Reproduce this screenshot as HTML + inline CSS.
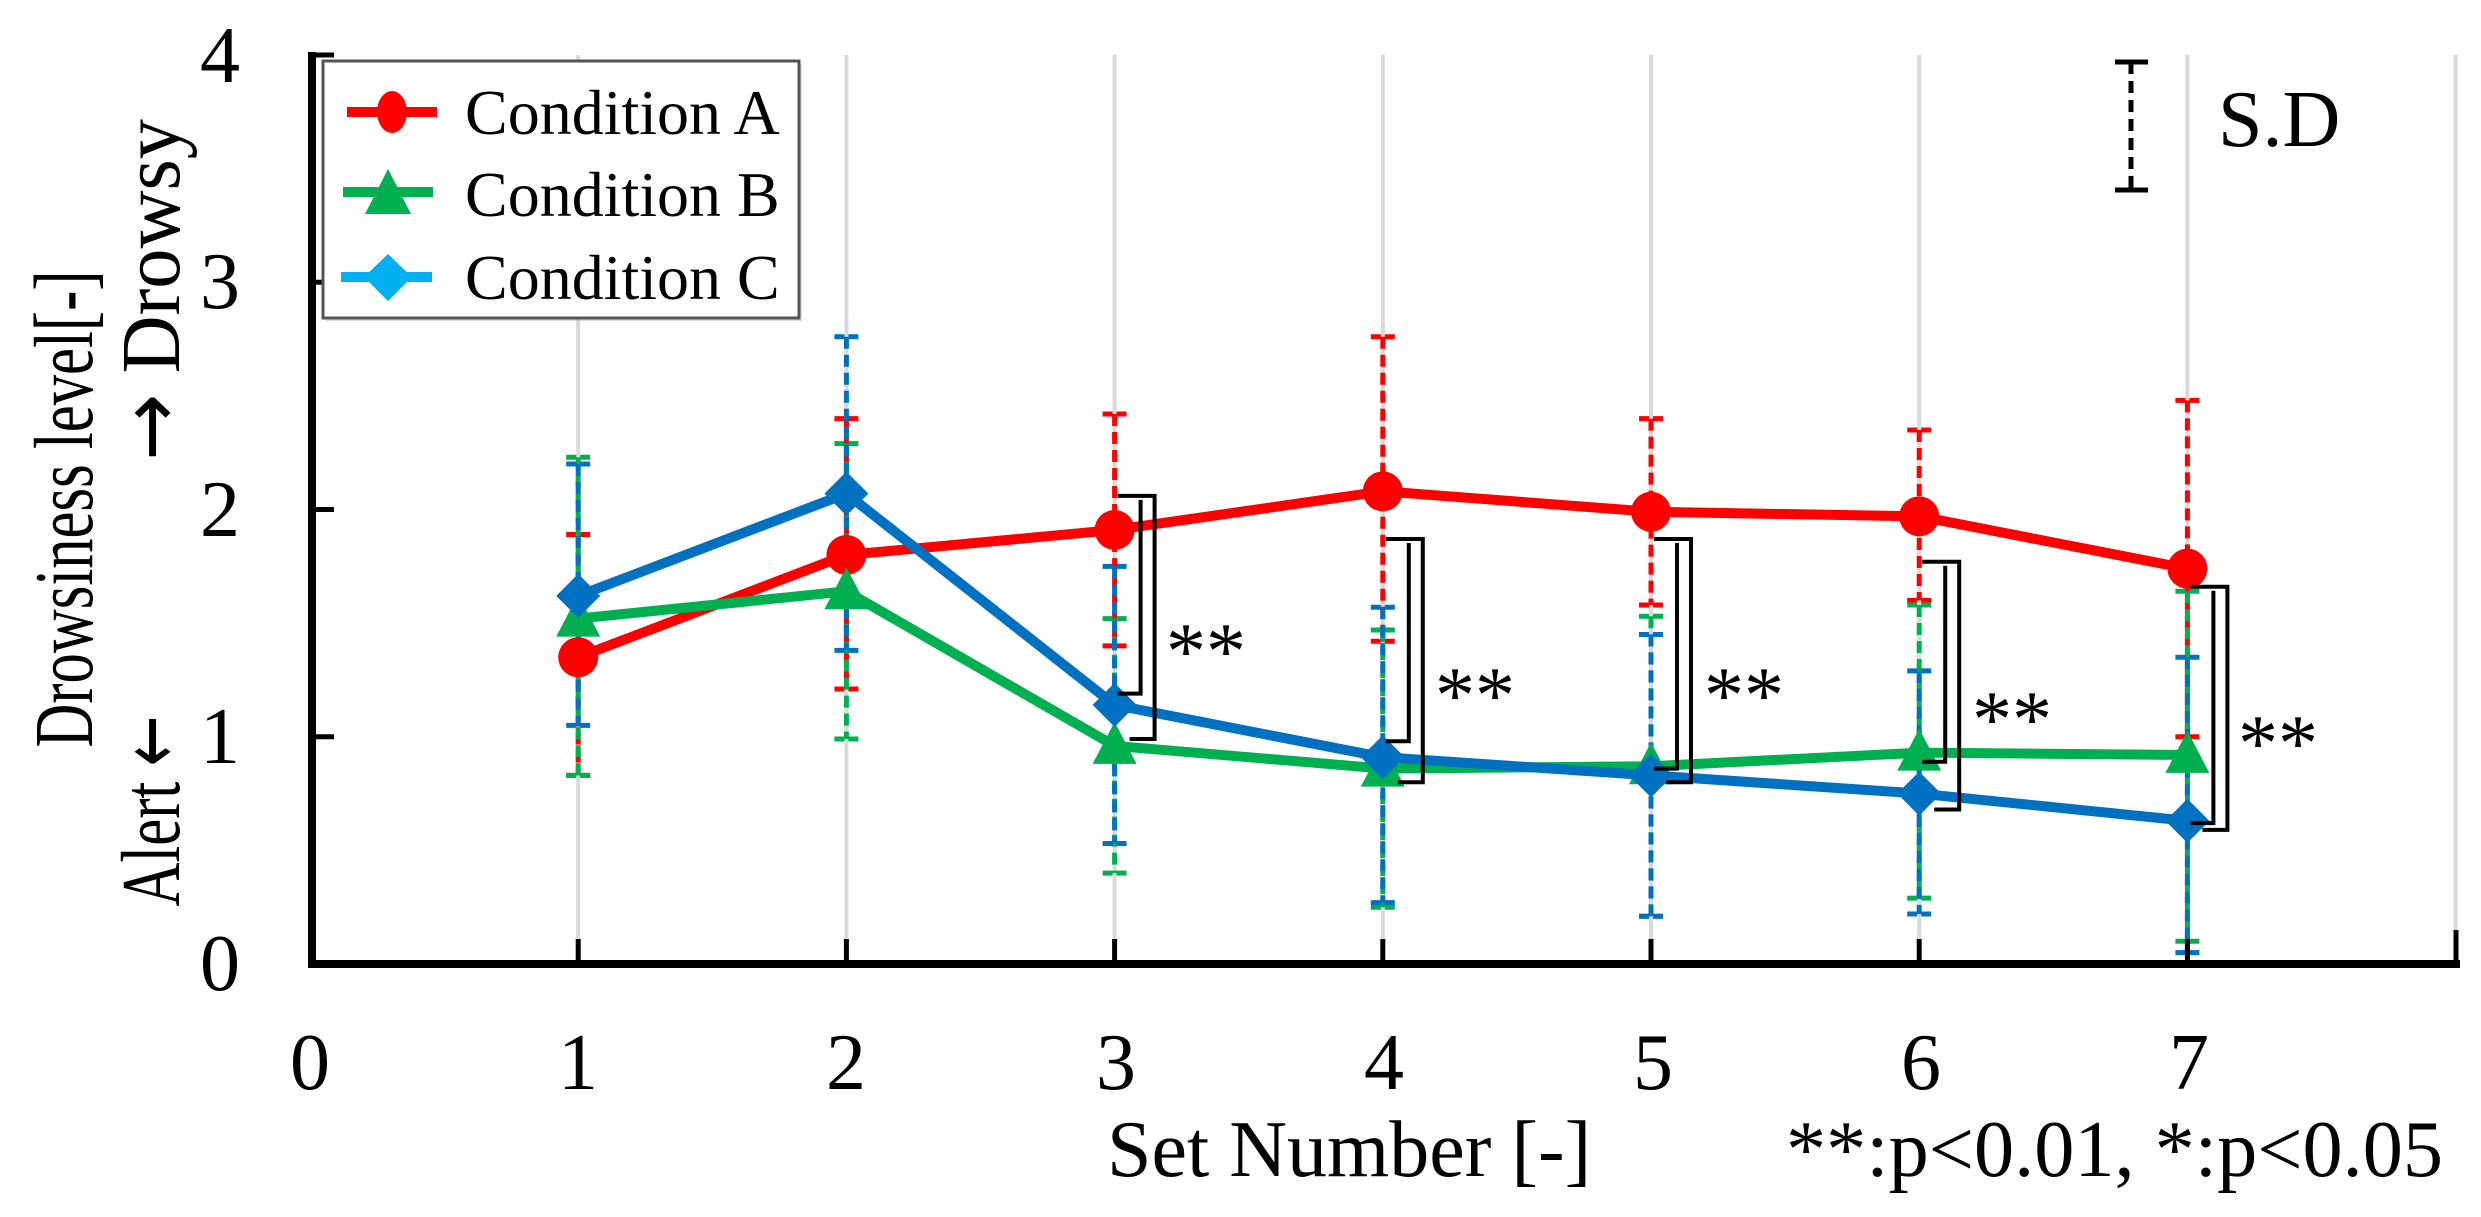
<!DOCTYPE html>
<html><head><meta charset="utf-8"><style>
html,body{margin:0;padding:0;background:#fff;}
svg{display:block;}
text{font-family:"Liberation Serif",serif;fill:#000;}
.ar{font-family:"DejaVu Sans",sans-serif;}
</style></head><body>
<svg id="s" width="2481" height="1217" viewBox="0 0 2481 1217" xmlns="http://www.w3.org/2000/svg">
<rect width="2481" height="1217" fill="#fff"/>
<g id="grid" stroke="#d9d9d9" stroke-width="4"></g>
<g id="err"></g>
<g id="lines"></g>
<g id="brk" stroke="#000" stroke-width="4" fill="none"></g>
<g stroke="#000">
<line x1="312" y1="52" x2="312" y2="968" stroke-width="8"/>
<line x1="308" y1="964" x2="2460" y2="964" stroke-width="8"/>
<line x1="2456" y1="930" x2="2456" y2="968" stroke-width="5"/>
</g>
<g id="ticks" stroke="#000" stroke-width="5"></g>
<g font-size="80" text-anchor="end">
<text x="240" y="990">0</text>
<text x="240" y="763">1</text>
<text x="240" y="536">2</text>
<text x="240" y="308">3</text>
<text x="240" y="82">4</text>
</g>
<g font-size="80" text-anchor="middle">
<text x="310" y="1089">0</text><text x="578" y="1089">1</text><text x="846" y="1089">2</text>
<text x="1116" y="1089">3</text><text x="1384" y="1089">4</text><text x="1653" y="1089">5</text>
<text x="1921" y="1089">6</text><text x="2189" y="1089">7</text>
</g>
<text x="1107" y="1176" font-size="80">Set Number [-]</text>
<text x="1786" y="1176" font-size="80" textLength="657" lengthAdjust="spacingAndGlyphs">**:p&lt;0.01,  *:p&lt;0.05</text>
<g font-size="84" text-anchor="middle">
<text transform="translate(92,509) rotate(-90)" textLength="477" lengthAdjust="spacingAndGlyphs">Drowsiness level[-]</text>
<text transform="translate(179,811) rotate(-90)" textLength="191" lengthAdjust="spacingAndGlyphs">Alert <tspan class="ar">←</tspan></text>
<text transform="translate(179,290) rotate(-90)" textLength="342" lengthAdjust="spacingAndGlyphs"><tspan class="ar">→</tspan> Drowsy</text>
</g>
<rect x="326" y="64" width="476" height="257" fill="#bbb" opacity="0.5"/>
<rect x="323" y="61" width="476" height="257" fill="#fff" stroke="#555" stroke-width="3"/>
<line x1="347" y1="112" x2="437" y2="112" stroke="#ff0000" stroke-width="10"/>
<ellipse cx="392" cy="112" rx="15" ry="21" fill="#ff0000"/>
<line x1="343" y1="192" x2="433" y2="192" stroke="#00b050" stroke-width="10"/>
<polygon points="388,169 411,214 365,214" fill="#00b050"/>
<line x1="341" y1="277" x2="432" y2="277" stroke="#00b0f0" stroke-width="10"/>
<polygon points="388,254 412,277 388,301 364,277" fill="#00b0f0"/>
<g font-size="64">
<text x="465" y="134">Condition A</text>
<text x="465" y="216">Condition B</text>
<text x="465" y="299">Condition C</text>
</g>
<g stroke="#000" stroke-width="5">
<line x1="2131" y1="62" x2="2131" y2="190" stroke-dasharray="12 7"/>
<line x1="2115" y1="62" x2="2148" y2="62"/>
<line x1="2115" y1="190" x2="2148" y2="190"/>
</g>
<text x="2218" y="146" font-size="80">S.D</text>
<g font-size="80">
<text x="1166" y="678">**</text>
<text x="1435" y="722">**</text>
<text x="1704" y="722">**</text>
<text x="1972" y="746">**</text>
<text x="2238" y="770">**</text>
</g>
</svg>
<script>
var NS="http://www.w3.org/2000/svg";
function X(v){return 310+268.2*v;}
function Y(v){return 964-227.25*v;}
function el(p,t,a){var e=document.createElementNS(NS,t);for(var k in a)e.setAttribute(k,a[k]);document.getElementById(p).appendChild(e);return e;}
for(var i=1;i<=8;i++){el("grid","line",{x1:X(i),y1:55,x2:X(i),y2:964});}
for(var i=1;i<=7;i++){el("ticks","line",{x1:X(i),y1:964,x2:X(i),y2:939});}
for(var j=1;j<=4;j++){el("ticks","line",{x1:312,y1:Y(j),x2:334,y2:Y(j)});}
var A=[1.35,1.80,1.91,2.08,1.99,1.97,1.74],B=[1.52,1.64,0.96,0.86,0.87,0.93,0.92],C=[1.62,2.07,1.14,0.91,0.83,0.75,0.63];
var EA=[[1.89,0.83],[2.40,1.21],[2.42,1.40],[2.76,1.42],[2.40,1.58],[2.35,1.60],[2.48,1.00]];
var EB=[[2.23,0.83],[2.29,0.99],[1.52,0.40],[1.47,0.25],[1.53,0.21],[1.58,0.29],[1.64,0.10]];
var EC=[[2.20,1.05],[2.76,1.38],[1.75,0.53],[1.57,0.27],[1.45,0.21],[1.29,0.22],[1.35,0.05]];
function eb(E,col){for(var i=0;i<7;i++){var x=X(i+1);
 el("err","line",{x1:x,y1:Y(E[i][0]),x2:x,y2:Y(E[i][1]),stroke:col,"stroke-width":5,"stroke-dasharray":"12 6"});
 [0,1].forEach(function(k){el("err","line",{x1:x-12,y1:Y(E[i][k]),x2:x+12,y2:Y(E[i][k]),stroke:col,"stroke-width":5,"stroke-dasharray":"10 4"});});}}
eb(EA,"#ff0000");eb(EB,"#00b050");eb(EC,"#0070c0");
function pl(D,col){var p=D.map(function(v,i){return X(i+1)+","+Y(v);}).join(" ");el("lines","polyline",{points:p,fill:"none",stroke:col,"stroke-width":10,"stroke-linejoin":"round"});}
pl(A,"#ff0000");pl(B,"#00b050");pl(C,"#0070c0");
for(var i=0;i<7;i++){var x=X(i+1);
 el("lines","circle",{cx:x,cy:Y(A[i]),r:20,fill:"#ff0000"});
 var y=Y(B[i]);el("lines","polygon",{points:x+","+(y-24)+" "+(x+22)+","+(y+18)+" "+(x-22)+","+(y+18),fill:"#00b050"});
 y=Y(C[i]);el("lines","polygon",{points:x+","+(y-22)+" "+(x+22)+","+y+" "+x+","+(y+22)+" "+(x-22)+","+y,fill:"#0070c0"});}
var BR=[[3,2.06,1.19,0.99],[4,1.87,0.98,0.80],[5,1.87,0.86,0.80],[6,1.77,0.89,0.68],[7,1.66,0.62,0.59]];
BR.forEach(function(b){var x=X(b[0]);
 el("brk","path",{d:"M"+(x+3)+","+Y(b[1])+" H"+(x+40)+" V"+Y(b[3])+" H"+(x+15)});
 el("brk","path",{d:"M"+(x+26)+","+(Y(b[1])+4)+" V"+Y(b[2])+" H"+(x+3)});});
</script>
</body></html>
